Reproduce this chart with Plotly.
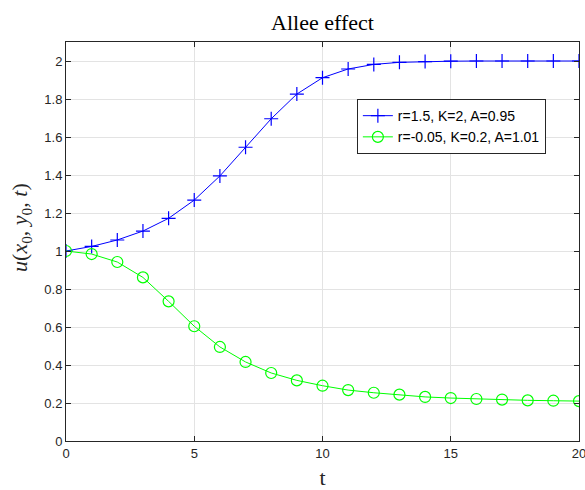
import plotly.graph_objects as go

t = list(range(21))
u_blue = [1.0, 1.024, 1.058, 1.105, 1.172, 1.268, 1.395, 1.546, 1.696, 1.826, 1.912,
          1.958, 1.982, 1.993, 1.997, 1.999, 2.0, 2.0, 2.0, 2.0, 2.0]
u_green = [1.0, 0.984, 0.942, 0.861, 0.735, 0.604, 0.495, 0.416, 0.358, 0.319, 0.291,
           0.268, 0.254, 0.244, 0.232, 0.226, 0.221, 0.218, 0.214, 0.212, 0.210]
name_blue = "r=1.5, K=2, A=0.95"
name_green = "r=-0.05, K=0.2, A=1.01"
y_label = "<i>u</i>(<i>x</i><sub>0</sub>, <i>y</i><sub>0</sub>, <i>t</i>)"

fig = go.Figure()
fig.add_trace(go.Scatter(x=t, y=u_blue, mode="lines+markers", name=name_blue,
                         line=dict(color="#0000ff", width=1),
                         marker=dict(symbol="cross-thin", size=10, color="#0000ff",
                                     line=dict(color="#0000ff", width=1.2))))
fig.add_trace(go.Scatter(x=t, y=u_green, mode="lines+markers", name=name_green,
                         line=dict(color="#00ff00", width=1),
                         marker=dict(symbol="circle-open", size=11, color="#00ff00",
                                     line=dict(color="#00ff00", width=1.2))))

axis_common = dict(showline=True, linecolor="#262626", linewidth=1, mirror="ticks",
                   ticks="inside", ticklen=5, tickcolor="#262626",
                   showgrid=True, gridcolor="#e3e3e3", gridwidth=1, zeroline=False,
                   ticklabeloverflow="allow", automargin=False,
                   tickfont=dict(family="Liberation Sans, Arial", size=13, color="#262626"))

fig.update_layout(
    width=585, height=490,
    margin=dict(l=66, r=6, t=42, b=49),
    paper_bgcolor="white", plot_bgcolor="white",
    title=dict(text="Allee effect", x=0.5, xref="paper", xanchor="center",
               y=0.955, yanchor="middle",
               font=dict(family="Liberation Serif, Times New Roman", size=22, color="black")),
    xaxis=dict(range=[0, 20], tickvals=[0, 5, 10, 15, 20],
               title=dict(text="t", standoff=12,
                          font=dict(family="Liberation Serif", size=22, color="#262626")),
               **axis_common),
    yaxis=dict(range=[0, 2.1], tickvals=[0, 0.2, 0.4, 0.6, 0.8, 1, 1.2, 1.4, 1.6, 1.8, 2],
               **axis_common),
    legend=dict(x=0.567, y=0.857, xanchor="left", yanchor="top",
                bgcolor="white", bordercolor="#262626", borderwidth=1,
                font=dict(family="Liberation Sans, Arial", size=14, color="black"),
                tracegroupgap=0),
    showlegend=True,
)
fig.add_annotation(text=y_label, xref="paper", yref="paper",
                   x=-0.0877, y=0.534, xanchor="center", yanchor="middle",
                   textangle=-90, showarrow=False,
                   font=dict(family="Liberation Serif", size=22, color="#262626"))

fig.write_html("out.html")
